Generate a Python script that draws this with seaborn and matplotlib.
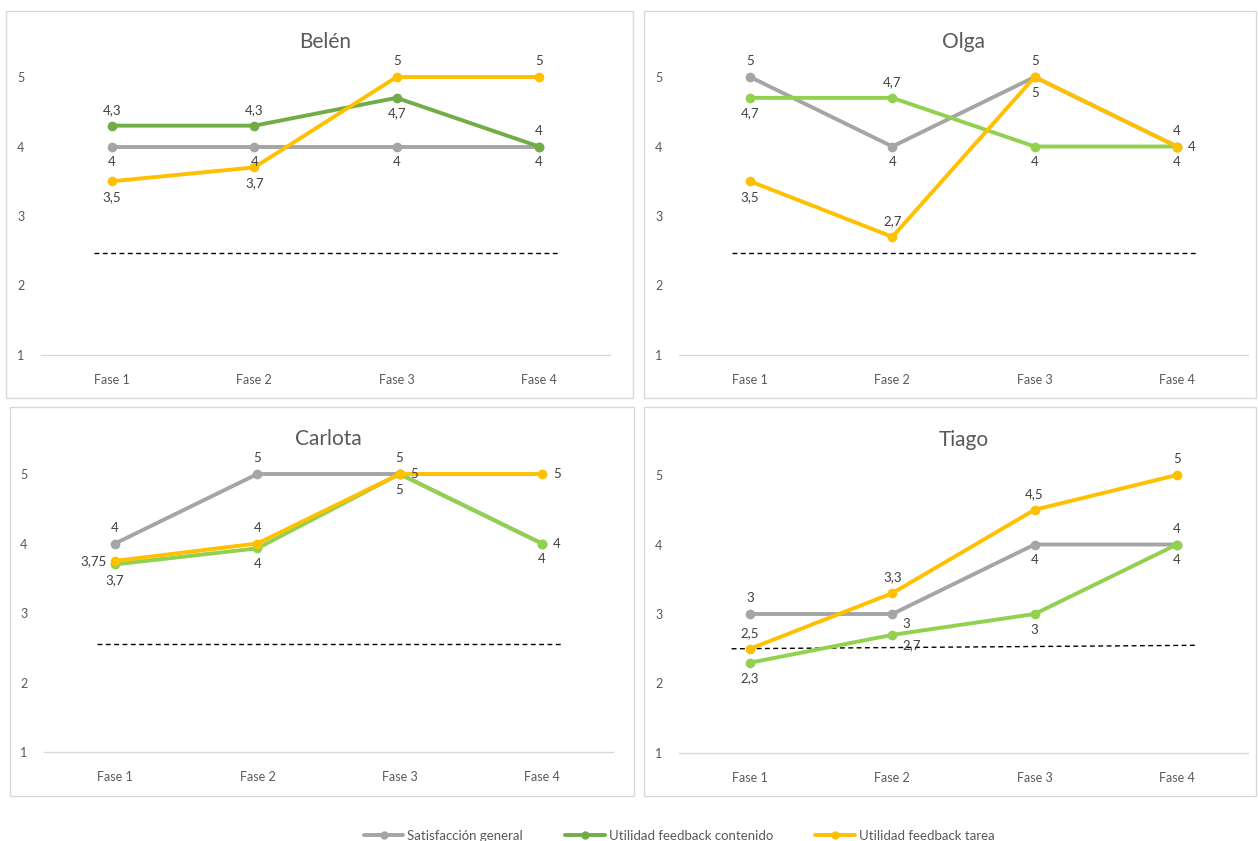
import matplotlib
matplotlib.use("Agg")
import matplotlib.pyplot as plt
from matplotlib.patches import Rectangle
from matplotlib.lines import Line2D
import seaborn as sns
import pandas as pd

sns.set_theme(style="white")
plt.rcParams['font.family'] = ['Lato', 'DejaVu Sans']

# ---------------- data ----------------
fases = ["Fase 1", "Fase 2", "Fase 3", "Fase 4"]
series_names = ["Satisfacción general", "Utilidad feedback contenido", "Utilidad feedback tarea"]

belen_sat = [4, 4, 4, 4]
belen_cont = [4.3, 4.3, 4.7, 4]
belen_tarea = [3.5, 3.7, 5, 5]

olga_sat = [5, 4, 5, 4]
olga_cont = [4.7, 4.7, 4, 4]
olga_tarea = [3.5, 2.7, 5, 4]

carlota_sat = [4, 5, 5, 4]
carlota_cont = [3.7, 3.93, 5, 4]
carlota_tarea = [3.75, 4, 5, 5]

tiago_sat = [3, 3, 4, 4]
tiago_cont = [2.3, 2.7, 3, 4]
tiago_tarea = [2.5, 3.3, 4.5, 5]

# reference (dashed) line level: start, end
belen_ref = [2.47, 2.47]
olga_ref = [2.47, 2.47]
carlota_ref = [2.55, 2.55]
tiago_ref = [2.5, 2.55]

# data label text overrides (panel, series index, point index)
label_override = {("Carlota", 1, 1): "4"}

# ---------------- styling ----------------
gray = "#A5A5A5"
yellow = "#FFC000"
green_dark = "#70AD47"
green_light = "#92D050"
txt = "#595959"
lbl = "#404040"

panels = [
    dict(name="Belén", data=[belen_sat, belen_cont, belen_tarea], ref=belen_ref,
         green=green_dark, rect=(41, 355, 569), frame=(6, 11, 627, 387), xticks=True,
         pos=[["b", "b", "b", "b"], ["a", "a", "b", "a"], ["b", "b", "a", "a"]]),
    dict(name="Olga", data=[olga_sat, olga_cont, olga_tarea], ref=olga_ref,
         green=green_light, rect=(679, 355, 569), frame=(644, 11, 612, 387), xticks=False,
         pos=[["a", "b", "a", "a"], ["b", "a", "b", "r"], ["b", "a", "b", "b"]]),
    dict(name="Carlota", data=[carlota_sat, carlota_cont, carlota_tarea], ref=carlota_ref,
         green=green_light, rect=(44, 752, 569), frame=(10, 407, 624, 389), xticks=False,
         pos=[["a", "a", "a", "b"], ["b", "b", "b", "r"], ["l", "a", "r", "r"]]),
    dict(name="Tiago", data=[tiago_sat, tiago_cont, tiago_tarea], ref=tiago_ref,
         green=green_light, rect=(679, 753, 569), frame=(644, 407, 612, 389), xticks=False,
         pos=[["a", "rb", "b", "a"], ["b", "rb", "b", "b"], ["a", "a", "a", "a"]]),
]

W, H = 1258, 841
fig = plt.figure(figsize=(W / 100, H / 100), dpi=100)

ymin, ymax = 1, 5.3
px_per_unit = 69.5

offsets = {"a": (0, 7, "center", "bottom"), "b": (0, -7, "center", "top"),
           "r": (8, 0, "left", "center"), "l": (-6, 0, "right", "center"),
           "rb": (7, -3, "left", "top")}


def fmt(v):
    s = f"{round(v, 2):g}"
    return s.replace(".", ",")


for p in panels:
    fx, fy, fw, fh = p["frame"]
    fig.patches.append(Rectangle((fx / W, 1 - (fy + fh) / H), fw / W, fh / H,
                                 transform=fig.transFigure, fill=False,
                                 edgecolor="#D9D9D9", linewidth=1.0))
    left, bottom, width = p["rect"]
    height = (ymax - ymin) * px_per_unit
    ax = fig.add_axes([left / W, 1 - bottom / H, width / W, height / H])
    ax.patch.set_alpha(0)

    rows = []
    for sname, vals in zip(series_names, p["data"]):
        for f, v in zip(fases, vals):
            rows.append(dict(Fase=f, Serie=sname, Valor=v))
    df = pd.DataFrame(rows)
    palette = {series_names[0]: gray, series_names[1]: p["green"], series_names[2]: yellow}
    sns.lineplot(data=df, x="Fase", y="Valor", hue="Serie", palette=palette,
                 hue_order=series_names, marker="o", markersize=7, markeredgewidth=0,
                 linewidth=2.8, ax=ax, legend=False, sort=False)

    # reference dashed line
    ax.plot([-0.13, 3.15], p["ref"], color="#000000", linestyle=(0, (3.5, 2.5)),
            linewidth=1.0, zorder=1)

    # data labels
    for si, vals in enumerate(p["data"]):
        for pi, v in enumerate(vals):
            t = label_override.get((p["name"], si, pi), fmt(v))
            dx, dy, ha, va = offsets[p["pos"][si][pi]]
            ax.annotate(t, (pi, v), xytext=(dx, dy), textcoords="offset points",
                        ha=ha, va=va, fontsize=9.5, color=lbl)

    ax.set_xlim(-0.5, 3.5)
    ax.set_ylim(ymin, ymax)
    ax.set_yticks([1, 2, 3, 4, 5])
    ax.set_xticks(range(4))
    ax.set_xticklabels(fases)
    ax.tick_params(axis="both", labelsize=9, colors=txt, length=0)
    ax.tick_params(axis="y", pad=12)
    ax.tick_params(axis="x", pad=14)
    ax.set_xlabel("")
    ax.set_ylabel("")
    for s in ["top", "right", "left"]:
        ax.spines[s].set_visible(False)
    ax.spines["bottom"].set_color("#D9D9D9")
    ax.spines["bottom"].set_linewidth(1.0)
    if p["xticks"]:
        ax.set_xticks([0.5 + i - 1 for i in range(5)], minor=True)
        ax.tick_params(axis="x", which="minor", length=5, color="#D9D9D9", direction="out")
    ax.grid(False)
    ax.set_title(p["name"], fontsize=15, color=txt, pad=6)

handles = [Line2D([0], [0], color=c, linewidth=2.8, marker="o", markersize=6,
                  markeredgewidth=0) for c in [gray, green_dark, yellow]]
fig.legend(handles, series_names, loc="lower center", bbox_to_anchor=(0.54, -0.015),
           ncol=3, frameon=False, fontsize=9.5, labelcolor=txt, handlelength=3.0,
           columnspacing=3.2, handletextpad=0.3)

fig.savefig("out.png", dpi=100, facecolor="white")
